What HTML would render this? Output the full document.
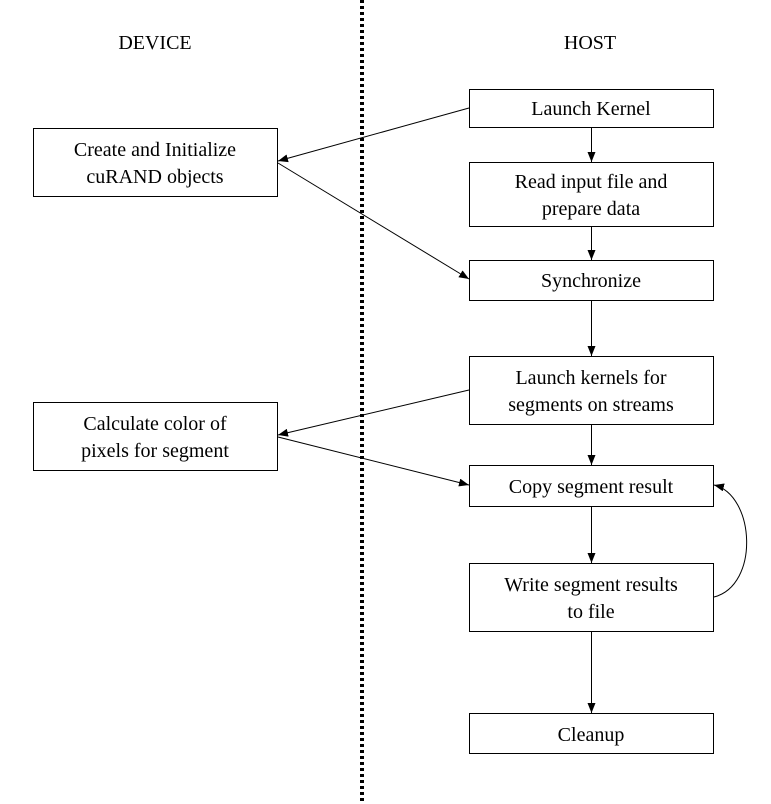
<!DOCTYPE html>
<html><head><meta charset="utf-8"><style>
body{margin:0;background:#fff;}
svg{display:block;font-family:"Liberation Serif",serif;}
</style></head><body>
<svg width="771" height="804" viewBox="0 0 771 804" xmlns="http://www.w3.org/2000/svg">
<defs><marker id="a" markerWidth="10" markerHeight="8" refX="10" refY="4" orient="auto" markerUnits="userSpaceOnUse"><path d="M0,0 L10,4 L0,8 z" fill="#000"/></marker></defs>
<line x1="362" y1="0" x2="362" y2="804" stroke="#000" stroke-width="4" stroke-dasharray="3,3"/>
<g font-size="20" text-anchor="middle" fill="#000">
<text x="155" y="49">DEVICE</text>
<text x="590" y="49">HOST</text>
</g>
<g fill="#fff" stroke="#000" stroke-width="1">
<rect x="469.5" y="89.5" width="244" height="38"/>
<rect x="469.5" y="162.5" width="244" height="64"/>
<rect x="469.5" y="260.5" width="244" height="40"/>
<rect x="469.5" y="356.5" width="244" height="68"/>
<rect x="469.5" y="465.5" width="244" height="41"/>
<rect x="469.5" y="563.5" width="244" height="68"/>
<rect x="469.5" y="713.5" width="244" height="40"/>
<rect x="33.5" y="128.5" width="244" height="68"/>
<rect x="33.5" y="402.5" width="244" height="68"/>
</g>
<g font-size="20" text-anchor="middle" fill="#000">
<text x="591" y="115">Launch Kernel</text>
<text x="591" y="188">Read input file and</text>
<text x="591" y="215">prepare data</text>
<text x="591" y="287">Synchronize</text>
<text x="591" y="384">Launch kernels for</text>
<text x="591" y="411">segments on streams</text>
<text x="591" y="493">Copy segment result</text>
<text x="591" y="591">Write segment results</text>
<text x="591" y="618">to file</text>
<text x="591" y="741">Cleanup</text>
<text x="155" y="156">Create and Initialize</text>
<text x="155" y="183">cuRAND objects</text>
<text x="155" y="430">Calculate color of</text>
<text x="155" y="457">pixels for segment</text>
</g>
<g stroke="#000" stroke-width="1" fill="none" marker-end="url(#a)">
<line x1="591.5" y1="128" x2="591.5" y2="162"/>
<line x1="591.5" y1="227" x2="591.5" y2="260"/>
<line x1="591.5" y1="301" x2="591.5" y2="356"/>
<line x1="591.5" y1="425" x2="591.5" y2="465"/>
<line x1="591.5" y1="507" x2="591.5" y2="563"/>
<line x1="591.5" y1="632" x2="591.5" y2="713"/>
<line x1="469" y1="108" x2="278" y2="161"/>
<line x1="278" y1="163" x2="469" y2="279"/>
<line x1="469" y1="390" x2="278" y2="435"/>
<line x1="278" y1="437" x2="469" y2="485"/>
<path d="M714,597 C760,585 755,495 714,485"/>
</g>
</svg>
</body></html>
